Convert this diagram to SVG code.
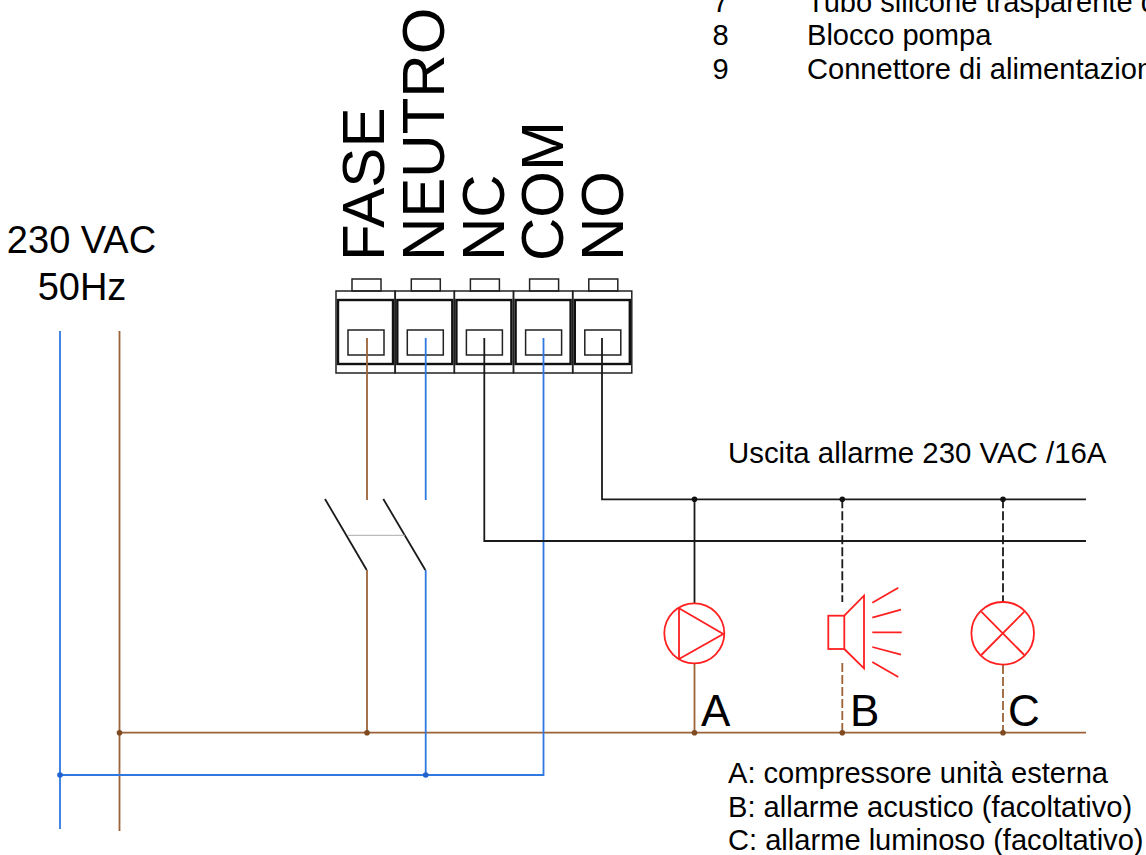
<svg xmlns="http://www.w3.org/2000/svg" width="1146" height="855" viewBox="0 0 1146 855">
<style>
text{font-family:"Liberation Sans",Arial,sans-serif;fill:#000}
.t{font-size:29.100px}
.v{font-size:60px}
.m{font-size:44px}
.w{fill:none;stroke-width:1.800}
.k{stroke:#1a1a1a}.b{stroke:#2f78e0}.r{stroke:#9c6238}
.d{stroke-dasharray:9 3}
.s{fill:none;stroke:#ff2020;stroke-width:1.800}
.o{fill:none;stroke:#222;stroke-width:1.500}
.h{fill:none;stroke:#111;stroke-width:2.400}
</style>
<defs>
<g id="cell">
<rect class="o" x="0" y="12" width="59" height="82"/>
<rect class="o" x="16" y="0" width="29" height="12"/>
<rect class="h" x="2" y="21" width="55" height="64"/>
<rect class="o" x="12" y="51" width="36" height="25"/>
</g>
</defs>
<g id="legend">
<text class="t" x="712.500" y="12">7</text><text class="t" x="807" y="12">Tubo silicone trasparente d</text>
<text class="t" x="712.500" y="45">8</text><text class="t" x="807" y="45">Blocco pompa</text>
<text class="t" x="712.500" y="78.500">9</text><text class="t" x="807" y="78.500">Connettore di alimentazione</text>
</g>
<g id="supply-label">
<text x="81.500" y="253" font-size="38" text-anchor="middle">230 VAC</text>
<text x="82" y="300" font-size="38" text-anchor="middle">50Hz</text>
</g>
<g id="terminal-labels">
<text class="v" transform="translate(384 261) rotate(-90)">FASE</text>
<text class="v" transform="translate(444 261) rotate(-90)">NEUTRO</text>
<text class="v" transform="translate(504 261) rotate(-90)">NC</text>
<text class="v" transform="translate(562.500 261) rotate(-90)">COM</text>
<text class="v" transform="translate(622.500 261) rotate(-90)">NO</text>
</g>
<g id="terminal-block">
<use href="#cell" x="336" y="279"/>
<use href="#cell" x="395.300" y="279"/>
<use href="#cell" x="454.400" y="279"/>
<use href="#cell" x="513.600" y="279"/>
<use href="#cell" x="572.800" y="279"/>
</g>
<g id="connectors">
<path class="w b" d="M60 331V829"/>
<path class="w r" d="M119.500 331V831"/>
<path class="w r" d="M119.500 732.700H1086"/>
<path class="w b" d="M60 775H543.500V338"/>
<path class="w r" d="M367 338V500"/>
<path class="w b" d="M425.700 338V500"/>
<path class="w k" d="M484.300 338V541H1086"/>
<path class="w k" d="M602 338V499.300H1086"/>
<path class="w k" d="M325 499L366.700 570"/>
<path class="w k" d="M383.300 499L425.300 570"/>
<path fill="none" stroke="#aaa" stroke-width="1" d="M347.700 535.300H405"/>
<path class="w r" d="M367 570V732.700"/>
<path class="w b" d="M425.700 570V775"/>
<path class="w k" d="M694.500 499.300V603"/>
<path class="w r" d="M694.500 663V732.700"/>
<path class="w k d" d="M842.300 499.300V602"/>
<path class="w r d" d="M842.300 663V732.700"/>
<path class="w k d" d="M1003 499.300V602"/>
<path class="w r d" d="M1003 665V732.700"/>
<g fill="#111"><circle cx="694.500" cy="499.300" r="2.800"/><circle cx="842.300" cy="499.300" r="2.800"/><circle cx="1003" cy="499.300" r="2.800"/></g>
<g fill="#7f4a20"><circle cx="119.500" cy="732.700" r="2.800"/><circle cx="367" cy="732.700" r="2.800"/><circle cx="694.500" cy="732.700" r="2.800"/><circle cx="842.300" cy="732.700" r="2.800"/><circle cx="1003" cy="732.700" r="2.800"/></g>
<g fill="#1f62d0"><circle cx="60" cy="775" r="2.800"/><circle cx="425.700" cy="775" r="2.800"/></g>
</g>
<g id="pump">
<circle class="s" cx="694.300" cy="633.300" r="30"/>
<path class="s" d="M679 608.300L723.300 634L679 659Z"/>
</g>
<g id="siren">
<rect class="s" x="828.300" y="615.700" width="16" height="33.300"/>
<path class="s" d="M844.300 615.700L864 595.700V668.300L844.300 649"/>
<path class="s" d="M872.300 602.700L898.300 587.700M872.300 617.700L901 609.700M872.300 632.300H901.700M872.300 647L901 654.700M872.300 662L898.300 677"/>
</g>
<g id="lamp">
<circle class="s" cx="1002.700" cy="633.300" r="31.300"/>
<path class="s" d="M981.300 611.700L1024.300 655M1024.300 611.700L981.300 655"/>
</g>
<g id="device-labels">
<text class="m" x="701" y="725.500">A</text>
<text class="m" x="850" y="725.500">B</text>
<text class="m" x="1008" y="725.500">C</text>
</g>
<g id="alarm-label">
<text x="728" y="462.500" font-size="29.400">Uscita allarme 230 VAC /16A</text>
</g>
<g id="device-legend">
<text class="t" x="728" y="783">A: compressore unità esterna</text>
<text class="t" x="728" y="816.500">B: allarme acustico (facoltativo)</text>
<text class="t" x="728" y="850">C: allarme luminoso (facoltativo)</text>
</g>
</svg>
